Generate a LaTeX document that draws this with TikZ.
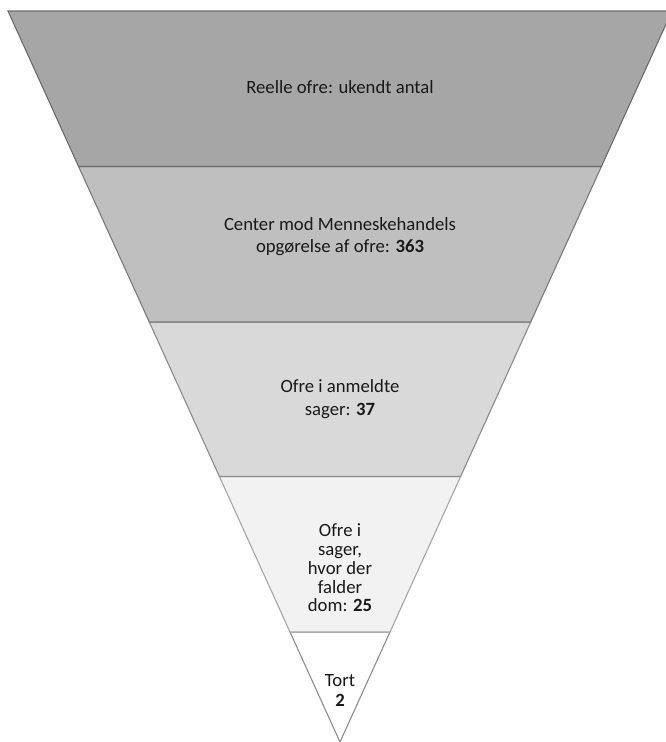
\documentclass[tikz,border=0pt]{standalone}
\usepackage{fontspec}
\setmainfont{Carlito}
\begin{document}
\begin{tikzpicture}[x=1pt,y=-1pt,
  band/.style={line width=1.1pt, line join=miter},
  lbl/.style={align=center, anchor=base, inner sep=0pt, text=black!90},
  fs/.style={font=\fontsize{18.7}{#1}\selectfont}]
\useasboundingbox (0,0) rectangle (666,742);
% corner coordinates
\coordinate (t1l) at (8,11);      \coordinate (t1r) at (672,11);
\coordinate (t2l) at (78.6,166.5); \coordinate (t2r) at (601.4,166.5);
\coordinate (t3l) at (149.3,322);  \coordinate (t3r) at (530.7,322);
\coordinate (t4l) at (219.4,476.5);\coordinate (t4r) at (460.6,476.5);
\coordinate (t5l) at (290,632);    \coordinate (t5r) at (390,632);
\coordinate (apex) at (340,742);
% bands (drawn bottom to top so upper outlines lie on top)
\draw[band, fill=white, draw=black!45] (t5l) -- (t5r) -- (apex) -- cycle;
\draw[band, fill=black!5, draw=black!35] (t4l) -- (t4r) -- (t5r) -- (t5l) -- cycle;
\draw[band, fill=black!15, draw=black!45] (t3l) -- (t3r) -- (t4r) -- (t4l) -- cycle;
\draw[band, fill=black!25, draw=black!52] (t2l) -- (t2r) -- (t3r) -- (t3l) -- cycle;
\draw[band, fill=black!35, draw=black!58] (t1l) -- (t1r) -- (t2r) -- (t2l) -- cycle;
% labels (anchor base = baseline of the last line)
\node[lbl, fs=22.5] (l1) at (340,93) {Reelle ofre: ukendt antal};
\node[lbl, fs=22.3] (l2) at (340,252.3) {Center mod Menneskehandels\\opgørelse af ofre: \textbf{363}};
\node[lbl, fs=22.7] (l3) at (340,415) {Ofre i anmeldte\\sager: \textbf{37}};
\node[lbl, fs=18.7] (l4) at (340,611.7) {Ofre i\\sager,\\hvor der\\falder\\dom: \textbf{25}};
\node[lbl, fs=20.7] (l5) at (340,706.7) {Tort\\\textbf{2}};
\end{tikzpicture}
\end{document}
